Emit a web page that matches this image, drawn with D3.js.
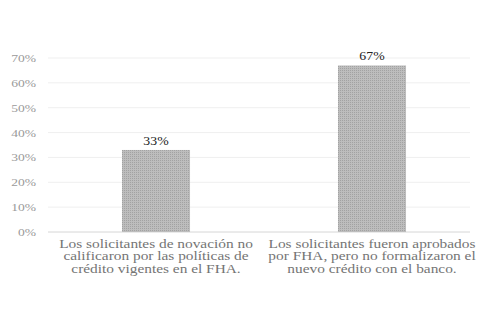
<!DOCTYPE html>
<html>
<head>
<meta charset="utf-8">
<script src="https://cdn.jsdelivr.net/npm/d3@7"></script>
<style>
  body { margin: 0; background: #fff; }
  svg { display: block; }
</style>
</head>
<body>
<div id="chart"></div>
<script>
let categories = [
  ["Los solicitantes de novación no", "calificaron por las políticas de", "crédito vigentes en el FHA."],
  ["Los solicitantes fueron aprobados", "por FHA, pero no formalizaron el", "nuevo crédito con el banco."]
];
let values = [33, 67];
let ticks = [0, 10, 20, 30, 40, 50, 60, 70];

let chartW = 480, chartH = 309;
let plotLeft = 48, plotRight = 480, plotTop = 58, plotBottom = 232;
let stretch = 1.23; // the scanned text is wider than it is tall

let svg = d3.select("#chart")
  .append("svg")
  .attr("width", chartW)
  .attr("height", chartH);

let x = d3.scaleBand()
  .domain(d3.range(categories.length))
  .range([plotLeft, plotRight])
  .paddingInner(0.685)
  .paddingOuter(0.3425);

let y = d3.scaleLinear()
  .domain([0, 70])
  .range([plotBottom, plotTop]);

// Stippled grey fill like the scan
let defs = svg.append("defs");
let pat = defs.append("pattern")
  .attr("id", "dots")
  .attr("width", 2)
  .attr("height", 2)
  .attr("patternUnits", "userSpaceOnUse");
pat.append("rect").attr("width", 2).attr("height", 2).attr("fill", "#bdbdbd");
pat.append("rect").attr("width", 1).attr("height", 1).attr("fill", "#a2a2a2");

// Grid lines
svg.append("g")
  .selectAll("line")
  .data(ticks)
  .enter().append("line")
  .attr("x1", plotLeft)
  .attr("x2", 470)
  .attr("y1", d => y(d))
  .attr("y2", d => y(d))
  .attr("stroke", d => d === 0 ? "#d6d6d6" : "#efefef")
  .attr("stroke-width", 1);

// Y axis labels
let yAxis = d3.axisLeft(y)
  .tickValues(ticks)
  .tickSize(0)
  .tickPadding(0)
  .tickFormat(d => d + "%");

svg.append("g")
  .attr("transform", "translate(36,0) scale(" + stretch + ",1)")
  .call(yAxis)
  .call(g => g.select(".domain").remove())
  .selectAll("text")
  .attr("font-family", "Liberation Serif, Times New Roman, serif")
  .attr("font-size", 11)
  .attr("fill", "#9a9a9a");

// Bars
svg.append("g")
  .selectAll("rect")
  .data(values)
  .enter().append("rect")
  .attr("x", (d, i) => x(i))
  .attr("y", d => y(d))
  .attr("width", x.bandwidth())
  .attr("height", d => y(0) - y(d))
  .attr("fill", "url(#dots)");

// Value labels
svg.append("g")
  .selectAll("text")
  .data(values)
  .enter().append("text")
  .attr("transform", (d, i) => "translate(" + (x(i) + x.bandwidth() / 2) + "," + (y(d) - 5) + ") scale(1.15,1)")
  .attr("text-anchor", "middle")
  .attr("font-family", "Liberation Serif, Times New Roman, serif")
  .attr("font-size", 12)
  .attr("fill", "#222")
  .text(d => d + "%");

// Category labels
let cat = svg.append("g")
  .selectAll("text")
  .data(categories)
  .enter().append("text")
  .attr("transform", (d, i) => "translate(" + (x(i) + x.bandwidth() / 2) + ",0) scale(" + stretch + ",1)")
  .attr("text-anchor", "middle")
  .attr("font-family", "Liberation Serif, Times New Roman, serif")
  .attr("font-size", 12.5)
  .attr("fill", "#747474");

cat.selectAll("tspan")
  .data(d => d)
  .enter().append("tspan")
  .attr("x", 0)
  .attr("y", (d, j) => 248 + j * 12.5)
  .text(d => d);
</script>
</body>
</html>
